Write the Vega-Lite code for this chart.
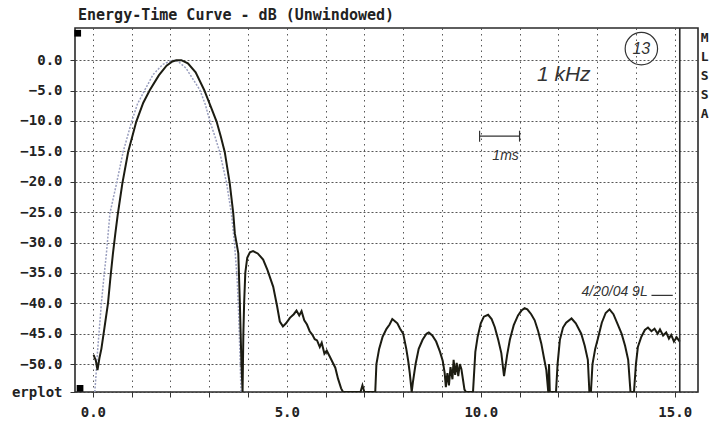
{
  "$schema": "https://vega.github.io/schema/vega-lite/v6.json",
  "width": 623,
  "height": 364,
  "autosize": {"type": "none"},
  "padding": {"left": 75, "top": 28, "right": 17, "bottom": 30},
  "background": "white",
  "title": {"text": "Energy-Time Curve - dB (Unwindowed)", "anchor": "start", "frame": "group", "offset": 4, "dx": 3, "font": "DejaVu Sans Mono", "fontSize": 15, "fontWeight": "bold", "color": "#222"},
  "config": {
    "view": {"stroke": "#2a2a2a", "strokeWidth": 1.6},
    "axis": {"labelFont": "DejaVu Sans Mono", "labelFontWeight": "bold", "labelFontSize": 14, "labelColor": "#222", "labelOverlap": false, "labelBound": false, "labelFlush": false, "domain": false, "tickColor": "#333", "tickSize": 5, "gridColor": "#3a3a3a", "gridWidth": 1, "gridOpacity": 0.85}
  },
  "datasets": {
    "dark": [
      {"t":0.02,"db":-48.5},{"t":0.08,"db":-49.5},{"t":0.12,"db":-51},{"t":0.17,"db":-49},{"t":0.22,"db":-47.5},{"t":0.3,"db":-44},{"t":0.39,"db":-40},{"t":0.45,"db":-36},{"t":0.52,"db":-31.7},{"t":0.58,"db":-28.5},{"t":0.64,"db":-25.5},{"t":0.76,"db":-20.3},{"t":0.91,"db":-15.1},{"t":1.12,"db":-10.1},{"t":1.3,"db":-7},{"t":1.47,"db":-4.9},{"t":1.7,"db":-2.5},{"t":1.9,"db":-0.9},{"t":2.05,"db":-0.2},{"t":2.15,"db":0},{"t":2.28,"db":0},{"t":2.45,"db":-0.5},{"t":2.65,"db":-2},{"t":2.87,"db":-4.9},{"t":3.05,"db":-7.8},{"t":3.19,"db":-10.1},{"t":3.3,"db":-12.6},{"t":3.4,"db":-15.1},{"t":3.53,"db":-20.3},{"t":3.62,"db":-25.2},{"t":3.66,"db":-28.5},{"t":3.75,"db":-31.8},{"t":3.79,"db":-40},{"t":3.83,"db":-49.8},{"t":3.86,"db":-54.6},
      {"t":3.88,"db":-45},{"t":3.9,"db":-40},{"t":3.93,"db":-35},{"t":3.98,"db":-32.5},{"t":4.05,"db":-31.6},{"t":4.13,"db":-31.4},{"t":4.25,"db":-31.8},{"t":4.39,"db":-32.8},{"t":4.5,"db":-34.5},{"t":4.65,"db":-37.3},{"t":4.75,"db":-40.5},{"t":4.82,"db":-43},{"t":4.9,"db":-43.8},{"t":4.98,"db":-43.3},{"t":5.08,"db":-42.4},{"t":5.18,"db":-41.8},{"t":5.25,"db":-41.2},{"t":5.32,"db":-42},{"t":5.38,"db":-41.3},{"t":5.45,"db":-42.8},{"t":5.52,"db":-43.5},{"t":5.59,"db":-44.6},{"t":5.66,"db":-45.2},{"t":5.72,"db":-45.9},{"t":5.78,"db":-46.1},{"t":5.85,"db":-47.2},{"t":5.9,"db":-46.5},{"t":5.97,"db":-48.3},{"t":6.03,"db":-47.8},{"t":6.11,"db":-48.8},{"t":6.18,"db":-49.7},{"t":6.25,"db":-50.6},{"t":6.32,"db":-52.4},{"t":6.4,"db":-54},{"t":6.45,"db":-54.6},
      {"t":6.9,"db":-54.6},{"t":6.95,"db":-53.5},{"t":7.0,"db":-54.6},{"t":7.28,"db":-54.6},{"t":7.31,"db":-50},{"t":7.38,"db":-47.5},{"t":7.47,"db":-45.5},{"t":7.57,"db":-44.2},{"t":7.65,"db":-43.5},{"t":7.72,"db":-42.6},{"t":7.78,"db":-42.9},{"t":7.85,"db":-43.3},{"t":7.92,"db":-44.2},{"t":8.0,"db":-45},{"t":8.08,"db":-47.5},{"t":8.13,"db":-49.5},{"t":8.17,"db":-51.5},{"t":8.22,"db":-54.6},{"t":8.25,"db":-53},{"t":8.32,"db":-50},{"t":8.4,"db":-47.5},{"t":8.5,"db":-46},{"t":8.6,"db":-45},{"t":8.66,"db":-44.8},{"t":8.75,"db":-45.3},{"t":8.85,"db":-46.3},{"t":8.95,"db":-48},{"t":9.02,"db":-49.5},{"t":9.07,"db":-51.5},{"t":9.1,"db":-53.8},{"t":9.14,"db":-51.5},{"t":9.18,"db":-53.5},{"t":9.22,"db":-50.5},{"t":9.27,"db":-52.5},{"t":9.3,"db":-49.3},{"t":9.34,"db":-51.8},{"t":9.38,"db":-49.8},{"t":9.42,"db":-52},{"t":9.46,"db":-50},{"t":9.5,"db":-50.8},{"t":9.54,"db":-52.5},{"t":9.58,"db":-54.2},{"t":9.62,"db":-54.6},
      {"t":9.8,"db":-54.6},{"t":9.86,"db":-48},{"t":9.92,"db":-45.5},{"t":10.0,"db":-43.3},{"t":10.08,"db":-42.2},{"t":10.19,"db":-41.9},{"t":10.28,"db":-42.6},{"t":10.36,"db":-43.9},{"t":10.45,"db":-46},{"t":10.53,"db":-48.2},{"t":10.6,"db":-52},{"t":10.68,"db":-48.5},{"t":10.75,"db":-46},{"t":10.85,"db":-43.6},{"t":10.96,"db":-42},{"t":11.05,"db":-41.2},{"t":11.13,"db":-40.8},{"t":11.2,"db":-41},{"t":11.3,"db":-41.8},{"t":11.39,"db":-42.8},{"t":11.48,"db":-44.6},{"t":11.56,"db":-46.6},{"t":11.63,"db":-49},{"t":11.69,"db":-51},{"t":11.74,"db":-54.6},{"t":11.76,"db":-50},{"t":11.78,"db":-54.6},
      {"t":11.94,"db":-54.6},{"t":11.98,"db":-50},{"t":12.04,"db":-46},{"t":12.12,"db":-44},{"t":12.2,"db":-43.2},{"t":12.34,"db":-42.5},{"t":12.45,"db":-43.3},{"t":12.59,"db":-45},{"t":12.68,"db":-47},{"t":12.76,"db":-49.3},{"t":12.8,"db":-54.6},{"t":12.84,"db":-54.6},{"t":12.88,"db":-50},{"t":12.95,"db":-47.5},{"t":13.02,"db":-45.8},{"t":13.12,"db":-43.2},{"t":13.22,"db":-41.6},{"t":13.32,"db":-41},{"t":13.42,"db":-41.8},{"t":13.52,"db":-43.3},{"t":13.63,"db":-45},{"t":13.72,"db":-47},{"t":13.8,"db":-49.3},{"t":13.86,"db":-54.6},
      {"t":13.95,"db":-54.6},{"t":14.0,"db":-50},{"t":14.05,"db":-47.2},{"t":14.14,"db":-45.5},{"t":14.23,"db":-44.4},{"t":14.31,"db":-44},{"t":14.4,"db":-44.6},{"t":14.48,"db":-44.2},{"t":14.56,"db":-45},{"t":14.62,"db":-44.3},{"t":14.7,"db":-45.3},{"t":14.78,"db":-44.8},{"t":14.85,"db":-45.8},{"t":14.91,"db":-45.2},{"t":14.98,"db":-46.3},{"t":15.05,"db":-45.6},{"t":15.13,"db":-46.3}
    ],
    "light": [
      {"t":0.05,"db":-54.6},{"t":0.08,"db":-52},{"t":0.12,"db":-48},{"t":0.17,"db":-44},{"t":0.22,"db":-40},{"t":0.28,"db":-36},{"t":0.35,"db":-31.8},{"t":0.44,"db":-25.2},{"t":0.61,"db":-20.3},{"t":0.78,"db":-15.1},{"t":1.0,"db":-10.1},{"t":1.15,"db":-7.2},{"t":1.34,"db":-4.9},{"t":1.55,"db":-2.4},{"t":1.8,"db":-0.7},{"t":2.04,"db":0},{"t":2.2,"db":-0.2},{"t":2.4,"db":-1.3},{"t":2.6,"db":-3.3},{"t":2.76,"db":-4.9},{"t":2.9,"db":-7.3},{"t":3.02,"db":-10.1},{"t":3.15,"db":-12.6},{"t":3.27,"db":-15.1},{"t":3.45,"db":-20.3},{"t":3.57,"db":-25.2},{"t":3.65,"db":-30},{"t":3.72,"db":-36},{"t":3.76,"db":-42},{"t":3.79,"db":-48},{"t":3.82,"db":-54.6}
    ],
    "side": [
      {"t":15.77,"db":3.62,"ch":"M"},{"t":15.77,"db":0.49,"ch":"L"},{"t":15.77,"db":-2.63,"ch":"S"},{"t":15.77,"db":-5.76,"ch":"S"},{"t":15.77,"db":-8.88,"ch":"A"}
    ],
    "notes": [
      {"t":14.14,"db":1.9,"txt":"13","size":16},
      {"t":12.14,"db":-2.5,"txt":"1 kHz","size":21},
      {"t":10.64,"db":-15.8,"txt":"1ms","size":14},
      {"t":13.45,"db":-38.2,"txt":"4/20/04 9L","size":14}
    ],
    "segs": [
      {"t":9.97,"t2":11.0,"db":-12.5,"db2":-12.5},
      {"t":9.97,"t2":9.97,"db":-11.6,"db2":-13.4},
      {"t":11.0,"t2":11.0,"db":-11.6,"db2":-13.4},
      {"t":14.4,"t2":14.95,"db":-38.7,"db2":-38.7}
    ],
    "marks": [
      {"t":-0.39,"db":4.44},{"t":-0.33,"db":-54.0}
    ]
  },
  "layer": [
    {
      "data": {"name": "light"},
      "mark": {"type": "line", "color": "#9a9fbf", "strokeWidth": 1.5, "strokeDash": [2, 1.5], "clip": true},
      "encoding": {
        "x": {"field": "t", "type": "quantitative", "scale": {"domain": [-0.46, 15.6], "nice": false, "zero": false},
          "axis": {"title": null, "tickCount": 30, "values": [0,1,2,3,4,5,6,7,8,9,10,11,12,13,14,15], "labelExpr": "datum.value % 5 == 0 ? format(datum.value, '.1f') : ''", "labelPadding": 8, "gridDash": [1.5, 4]}},
        "y": {"field": "db", "type": "quantitative", "scale": {"domain": [-54.6, 5.3], "nice": false, "zero": false},
          "axis": {"title": null, "tickCount": 30, "values": [0,-5,-10,-15,-20,-25,-30,-35,-40,-45,-50,-54.6], "labelExpr": "datum.value < -54 ? 'erplot' : format(datum.value, '.1f')", "labelPadding": 8, "gridDash": [2, 2]}}
      }
    },
    {
      "data": {"name": "dark"},
      "mark": {"type": "line", "color": "#1c1c12", "strokeWidth": 2, "clip": true},
      "encoding": {
        "x": {"field": "t", "type": "quantitative"},
        "y": {"field": "db", "type": "quantitative"}
      }
    },
    {
      "data": {"values": [{"t": 15.13}]},
      "mark": {"type": "rule", "color": "#2a2a2a", "strokeWidth": 1.6},
      "encoding": {"x": {"field": "t", "type": "quantitative"}}
    },
    {
      "data": {"name": "segs"},
      "mark": {"type": "rule", "color": "#333", "strokeWidth": 1.2},
      "encoding": {
        "x": {"field": "t", "type": "quantitative"},
        "x2": {"field": "t2"},
        "y": {"field": "db", "type": "quantitative"},
        "y2": {"field": "db2"}
      }
    },
    {
      "data": {"name": "notes"},
      "mark": {"type": "text", "font": "Liberation Sans", "color": "#333", "fontStyle": "italic"},
      "encoding": {
        "x": {"field": "t", "type": "quantitative"},
        "y": {"field": "db", "type": "quantitative"},
        "text": {"field": "txt"},
        "size": {"field": "size", "type": "quantitative", "scale": null}
      }
    },
    {
      "data": {"values": [{"t": 14.14, "db": 1.9}]},
      "mark": {"type": "point", "shape": "circle", "size": 1050, "filled": false, "color": "#333", "strokeWidth": 1.2, "opacity": 1},
      "encoding": {
        "x": {"field": "t", "type": "quantitative"},
        "y": {"field": "db", "type": "quantitative"}
      }
    },
    {
      "data": {"name": "marks"},
      "mark": {"type": "point", "shape": "square", "size": 45, "filled": true, "color": "#000", "opacity": 1},
      "encoding": {
        "x": {"field": "t", "type": "quantitative"},
        "y": {"field": "db", "type": "quantitative"}
      }
    },
    {
      "data": {"name": "side"},
      "mark": {"type": "text", "font": "DejaVu Sans Mono", "fontWeight": "bold", "fontSize": 13, "color": "#222"},
      "encoding": {
        "x": {"field": "t", "type": "quantitative"},
        "y": {"field": "db", "type": "quantitative"},
        "text": {"field": "ch"}
      }
    }
  ]
}
